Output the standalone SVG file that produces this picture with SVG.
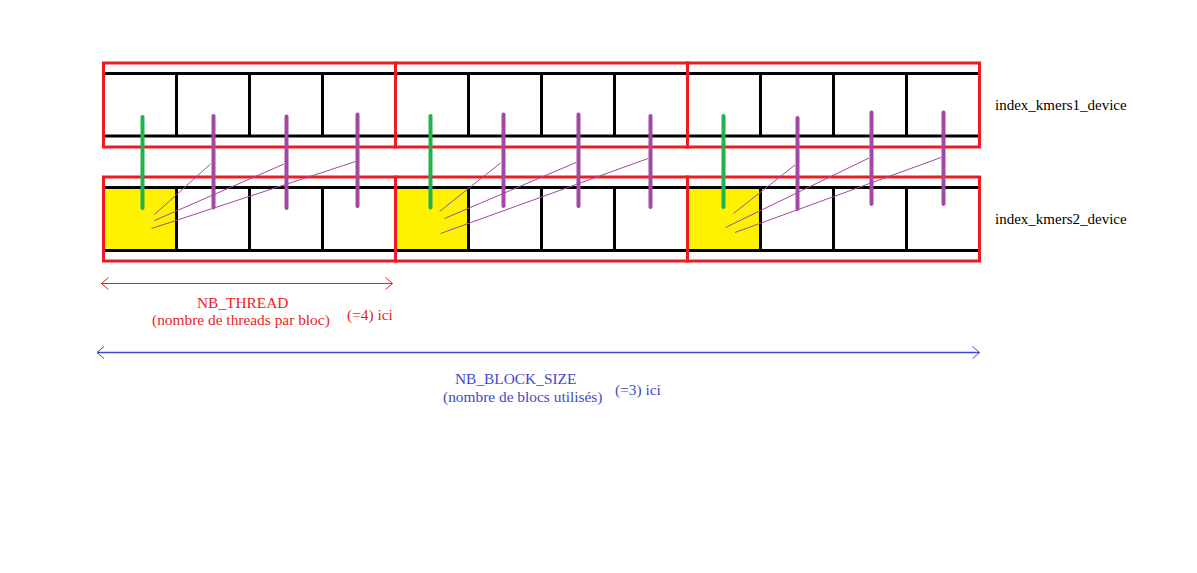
<svg xmlns="http://www.w3.org/2000/svg" width="1197" height="573" viewBox="0 0 1197 573">
<defs>
<style>
.blk{fill:none;stroke:#ed1c24;stroke-width:3}
.bl{stroke:#000;stroke-width:3;fill:none}
.yel{fill:#fff200}
.g{stroke:#22b14c;stroke-width:4;stroke-linecap:round}
.p{stroke:#a349a4;stroke-width:4;stroke-linecap:round}
.tp{stroke:#a349a4;stroke-width:1;fill:none}
text{font-family:"Liberation Serif","Times New Roman",serif;font-size:15.4px}
.lab{font-size:15px}
.red{fill:#ed1c24}
.blue{fill:#3f48cc}
</style>
<marker id="ar" markerUnits="userSpaceOnUse" markerWidth="16" markerHeight="16" viewBox="-10 -8 12 16" refX="0" refY="0" orient="auto-start-reverse">
<path d="M-7,-6 L0,0 L-7,6" fill="none" stroke="#ed1c24" stroke-width="1"/>
</marker>
<marker id="ab" markerUnits="userSpaceOnUse" markerWidth="16" markerHeight="16" viewBox="-10 -8 12 16" refX="0" refY="0" orient="auto-start-reverse">
<path d="M-7,-6 L0,0 L-7,6" fill="none" stroke="#3f48cc" stroke-width="1"/>
</marker>
</defs>
<rect width="1197" height="573" fill="#fff"/>

<g id="row-kmers1">
<path class="bl" d="M103,73.5 H979 M103,136 H979 M176.5,73.5 V136 M249.5,73.5 V136 M322.5,73.5 V136 M468.5,73.5 V136 M541.5,73.5 V136 M614.5,73.5 V136 M760.5,73.5 V136 M833.5,73.5 V136 M906.5,73.5 V136"/>
<rect class="blk" x="103.5" y="63" width="292" height="84"/>
<rect class="blk" x="395.5" y="63" width="292" height="84"/>
<rect class="blk" x="687.5" y="63" width="292" height="84"/>
</g>

<g id="row-kmers2">
<rect class="yel" x="103" y="187" width="73" height="63"/>
<rect class="yel" x="395" y="187" width="73" height="63"/>
<rect class="yel" x="687" y="187" width="73" height="63"/>
<path class="bl" d="M103,187.5 H979 M103,250.5 H979 M176.5,187.5 V250.5 M249.5,187.5 V250.5 M322.5,187.5 V250.5 M468.5,187.5 V250.5 M541.5,187.5 V250.5 M614.5,187.5 V250.5 M760.5,187.5 V250.5 M833.5,187.5 V250.5 M906.5,187.5 V250.5"/>
<rect class="blk" x="103.5" y="177" width="292" height="84"/>
<rect class="blk" x="395.5" y="177" width="292" height="84"/>
<rect class="blk" x="687.5" y="177" width="292" height="84"/>
</g>

<g id="connectors">
<line class="g" x1="142.5" y1="117" x2="142.5" y2="208"/>
<line class="p" x1="213.5" y1="116" x2="213.5" y2="207.5"/>
<line class="p" x1="286.5" y1="116.5" x2="286.5" y2="208"/>
<line class="p" x1="357.5" y1="114.5" x2="357.5" y2="206"/>
<line class="tp" x1="154.5" y1="214.5" x2="210.5" y2="164"/>
<line class="tp" x1="154.5" y1="220.5" x2="284" y2="164"/>
<line class="tp" x1="151.5" y1="228.5" x2="355.5" y2="161.5"/>

<line class="g" x1="430.5" y1="116" x2="430.5" y2="207.5"/>
<line class="p" x1="503.5" y1="114.5" x2="503.5" y2="206"/>
<line class="p" x1="578.5" y1="114.5" x2="578.5" y2="206"/>
<line class="p" x1="650.5" y1="116" x2="650.5" y2="207"/>
<line class="tp" x1="439.5" y1="211.5" x2="500.5" y2="163"/>
<line class="tp" x1="444.5" y1="218.5" x2="576" y2="162.5"/>
<line class="tp" x1="440.5" y1="233.5" x2="648" y2="158.5"/>

<line class="g" x1="723.5" y1="116" x2="723.5" y2="207"/>
<line class="p" x1="797.5" y1="118" x2="797.5" y2="209"/>
<line class="p" x1="871.5" y1="112.5" x2="871.5" y2="204"/>
<line class="p" x1="943.5" y1="112.5" x2="943.5" y2="204"/>
<line class="tp" x1="733.5" y1="213.5" x2="795" y2="165"/>
<line class="tp" x1="725.5" y1="227.5" x2="869" y2="158"/>
<line class="tp" x1="735" y1="232.5" x2="941" y2="157.5"/>

<line x1="101.5" y1="283.5" x2="392.5" y2="283.5" stroke="#ed1c24" stroke-width="1" marker-start="url(#ar)" marker-end="url(#ar)"/>
<line x1="97" y1="352.5" x2="979.5" y2="352.5" stroke="#3f48cc" stroke-width="1.3" marker-start="url(#ab)" marker-end="url(#ab)"/>
</g>

<g id="labels">
<text class="lab" x="995" y="109.5">index_kmers1_device</text>
<text class="lab" x="995" y="223.5">index_kmers2_device</text>
<text class="red" x="197" y="307.5">NB_THREAD</text>
<text class="red" x="152" y="324.5">(nombre de threads par bloc)</text>
<text class="red" x="347" y="319.5">(=4) ici</text>
<text class="blue" x="455" y="384">NB_BLOCK_SIZE</text>
<text class="blue" x="443" y="402">(nombre de blocs utilisés)</text>
<text class="blue" x="615" y="395">(=3) ici</text>
</g>
</svg>
